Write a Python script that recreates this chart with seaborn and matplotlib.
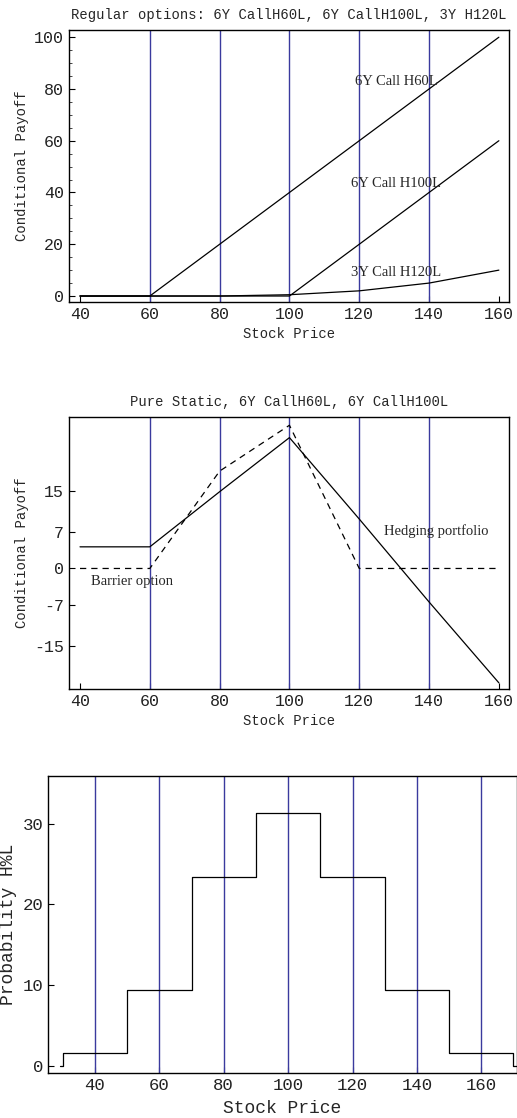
import numpy as np
import pandas as pd
import matplotlib
matplotlib.use("Agg")
import matplotlib.pyplot as plt
from matplotlib.ticker import MultipleLocator
import seaborn as sns

# panel 1: regular options payoff
strikes = [40, 60, 80, 100, 120, 140, 160]
call_60 = [0, 0, 20, 40, 60, 80, 100]
call_100 = [0, 0, 0, 0, 20, 40, 60]
call_120 = [0, 0, 0, 0.5, 2, 5, 10]

# panel 2: barrier option vs hedging portfolio
static_x = [40, 60, 80, 100, 120, 140, 160]
hedge = [4.2, 4.2, 14.9, 25.4, 9.6, -6.5, -22.2]
barrier_x = [40, 60, 80, 100, 120, 140, 160]
barrier = [0, 0, 18.9, 27.8, 0, 0, 0]

# panel 3: terminal distribution (steps)
step_x = [29, 30, 50, 70, 90, 110, 130, 150, 170, 171]
step_p = [0, 1.6, 9.4, 23.4, 31.3, 23.4, 9.4, 1.6, 0, 0]

grid_1 = [60, 80, 100, 120, 140]
grid_3 = [40, 60, 80, 100, 120, 140, 160]

sns.set_style("ticks")
plt.rcParams['font.family'] = ['Liberation Mono', 'DejaVu Sans']
plt.rcParams['axes.unicode_minus'] = False
plt.rcParams['xtick.direction'] = 'in'
plt.rcParams['ytick.direction'] = 'in'

fig = plt.figure(figsize=(5.17, 11.18), dpi=100)
vcol = '#3a3a9e'
serif = ['Liberation Serif', 'DejaVu Serif']


def style_axis(ax, tick_size):
    for s in ax.spines.values():
        s.set_color('black')
        s.set_linewidth(1.0)
    ax.tick_params(labelsize=tick_size, colors='black', labelcolor='#222222', length=4, width=0.8)
    ax.tick_params(which='minor', length=2, width=0.6)


# ---- panel 1
ax1 = fig.add_axes([0.1335, 0.7299, 0.851, 0.2433])
for g in grid_1:
    ax1.axvline(g, color=vcol, lw=1.0, zorder=1)
df1 = pd.DataFrame({"S": strikes, "c60": call_60, "c100": call_100, "c120": call_120})
for col in ["c60", "c100", "c120"]:
    sns.lineplot(data=df1, x="S", y=col, ax=ax1, color='black', lw=0.9, zorder=3)
ax1.set_xlim(36.85, 162.9)
ax1.set_ylim(-2.3, 102.8)
ax1.set_xticks([40, 60, 80, 100, 120, 140, 160])
ax1.set_yticks([0, 20, 40, 60, 80, 100])
ax1.yaxis.set_minor_locator(MultipleLocator(5))
ax1.set_xlabel("Stock Price", fontsize=10)
ax1.set_ylabel("Conditional Payoff", fontsize=10)
ax1.set_title("Regular options: 6Y CallH60L, 6Y CallH100L, 3Y H120L", fontsize=10, pad=8)
ax1.text(130.5, 82.7, "6Y Call H60L", family=serif, fontsize=10.5, ha='center', va='center')
ax1.text(130.5, 43.3, "6Y Call H100L", family=serif, fontsize=10.5, ha='center', va='center')
ax1.text(130.5, 8.9, "3Y Call H120L", family=serif, fontsize=10.5, ha='center', va='center')
style_axis(ax1, 12)

# ---- panel 2
ax2 = fig.add_axes([0.1335, 0.3837, 0.851, 0.2433])
for g in grid_1:
    ax2.axvline(g, color=vcol, lw=1.0, zorder=1)
df2 = pd.DataFrame({"S": static_x, "hedge": hedge})
df2b = pd.DataFrame({"S": barrier_x, "barrier": barrier})
sns.lineplot(data=df2, x="S", y="hedge", ax=ax2, color='black', lw=0.9, zorder=3)
sns.lineplot(data=df2b, x="S", y="barrier", ax=ax2, color='black', lw=0.9,
             linestyle=(0, (5, 4)), zorder=3)
ax2.set_xlim(36.85, 162.9)
ax2.set_ylim(-23.4, 29.4)
ax2.set_xticks([40, 60, 80, 100, 120, 140, 160])
ax2.set_yticks([-15, -7, 0, 7, 15])
ax2.set_xlabel("Stock Price", fontsize=10)
ax2.set_ylabel("Conditional Payoff", fontsize=10)
ax2.set_title("Pure Static, 6Y CallH60L, 6Y CallH100L", fontsize=10, pad=8)
ax2.text(54.9, -2.6, "Barrier option", family=serif, fontsize=10.5, ha='center', va='center')
ax2.text(142, 7.3, "Hedging portfolio", family=serif, fontsize=10.5, ha='center', va='center')
style_axis(ax2, 12)

# ---- panel 3
ax3 = fig.add_axes([0.0928, 0.04025, 0.9072, 0.2657])
for g in grid_3:
    ax3.axvline(g, color=vcol, lw=1.0, zorder=1)
df3 = pd.DataFrame({"S": step_x, "p": step_p})
sns.lineplot(data=df3, x="S", y="p", ax=ax3, color='black', lw=0.9,
             drawstyle='steps-post', zorder=3)
ax3.set_xlim(25.4, 171.1)
ax3.set_ylim(-0.87, 35.9)
ax3.set_xticks(grid_3)
ax3.set_yticks([0, 10, 20, 30])
ax3.set_xlabel("Stock Price", fontsize=13, labelpad=5)
ax3.set_ylabel("Probability H%L", fontsize=13)
style_axis(ax3, 12.5)

fig.savefig("out.png", dpi=100)
